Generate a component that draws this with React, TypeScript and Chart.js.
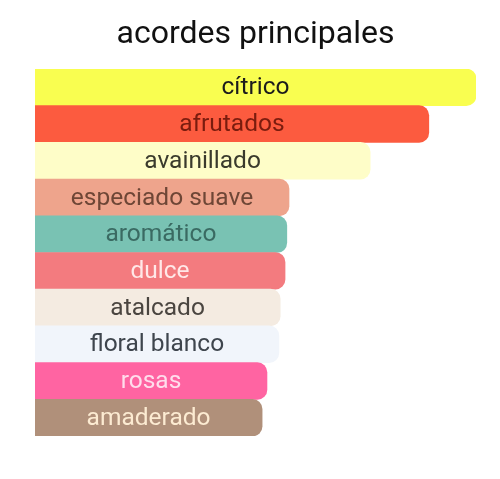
import React, { useEffect, useRef } from "react";
import { Chart, registerables } from "chart.js";

Chart.register(...registerables);

const categories = [
  "cítrico",
  "afrutados",
  "avainillado",
  "especiado suave",
  "aromático",
  "dulce",
  "atalcado",
  "floral blanco",
  "rosas",
  "amaderado",
];
const values = [100, 89.3, 76, 57.6, 57.1, 56.7, 55.6, 55.3, 52.6, 51.5];
const barColors = [
  "#F9FE50",
  "#FC5B3F",
  "#FEFDC8",
  "#EEA48C",
  "#79C2B3",
  "#F37B7F",
  "#F4EBE1",
  "#F1F5FB",
  "#FF64A2",
  "#B0907A",
];
const textColors = [
  "#1c1c1c",
  "#7A1C0E",
  "#3a3a2c",
  "#6e4636",
  "#3A6A62",
  "#FFE8E8",
  "#4A4540",
  "#3E454D",
  "#FFDDEC",
  "#FCEBD2",
];
const titleText = "acordes principales";

const barLabelPlugin = {
  id: "barLabels",
  afterDatasetsDraw(chart: any) {
    const ctx = chart.ctx;
    const meta = chart.getDatasetMeta(0);
    ctx.save();
    ctx.font = "24.5px Roboto";
    ctx.textAlign = "center";
    ctx.textBaseline = "middle";
    meta.data.forEach((bar: any, i: number) => {
      const left = bar.base;
      const right = bar.x;
      ctx.fillStyle = textColors[i];
      ctx.fillText(categories[i], (left + right) / 2, bar.y + 1);
    });
    ctx.restore();
  },
};

export default function App() {
  const ref = useRef<HTMLCanvasElement>(null);
  useEffect(() => {
    if (!ref.current) return;
    const chart = new Chart(ref.current, {
      type: "bar",
      data: {
        labels: categories,
        datasets: [
          {
            data: values,
            backgroundColor: barColors,
            borderWidth: 0,
            borderRadius: 10,
            borderSkipped: "start",
            barPercentage: 1,
            categoryPercentage: 1,
          },
        ],
      },
      options: {
        indexAxis: "y",
        animation: false,
        responsive: true,
        maintainAspectRatio: false,
        layout: { padding: { left: 35, right: 24, bottom: 43, top: 0 } },
        scales: {
          x: { display: false, min: 0, max: 100 },
          y: { display: false },
        },
        plugins: {
          legend: { display: false },
          tooltip: { enabled: false },
          title: {
            display: true,
            text: titleText,
            color: "#111111",
            font: { family: "Roboto", size: 32, weight: "normal" },
            padding: { top: 16, bottom: 14.6 },
          },
        },
      },
      plugins: [barLabelPlugin],
    });
    return () => chart.destroy();
  }, []);
  return (
    <div
      style={{
        position: "fixed",
        left: 0,
        top: 0,
        width: 500,
        height: 479,
        background: "#ffffff",
      }}
    >
      <canvas ref={ref} />
    </div>
  );
}
